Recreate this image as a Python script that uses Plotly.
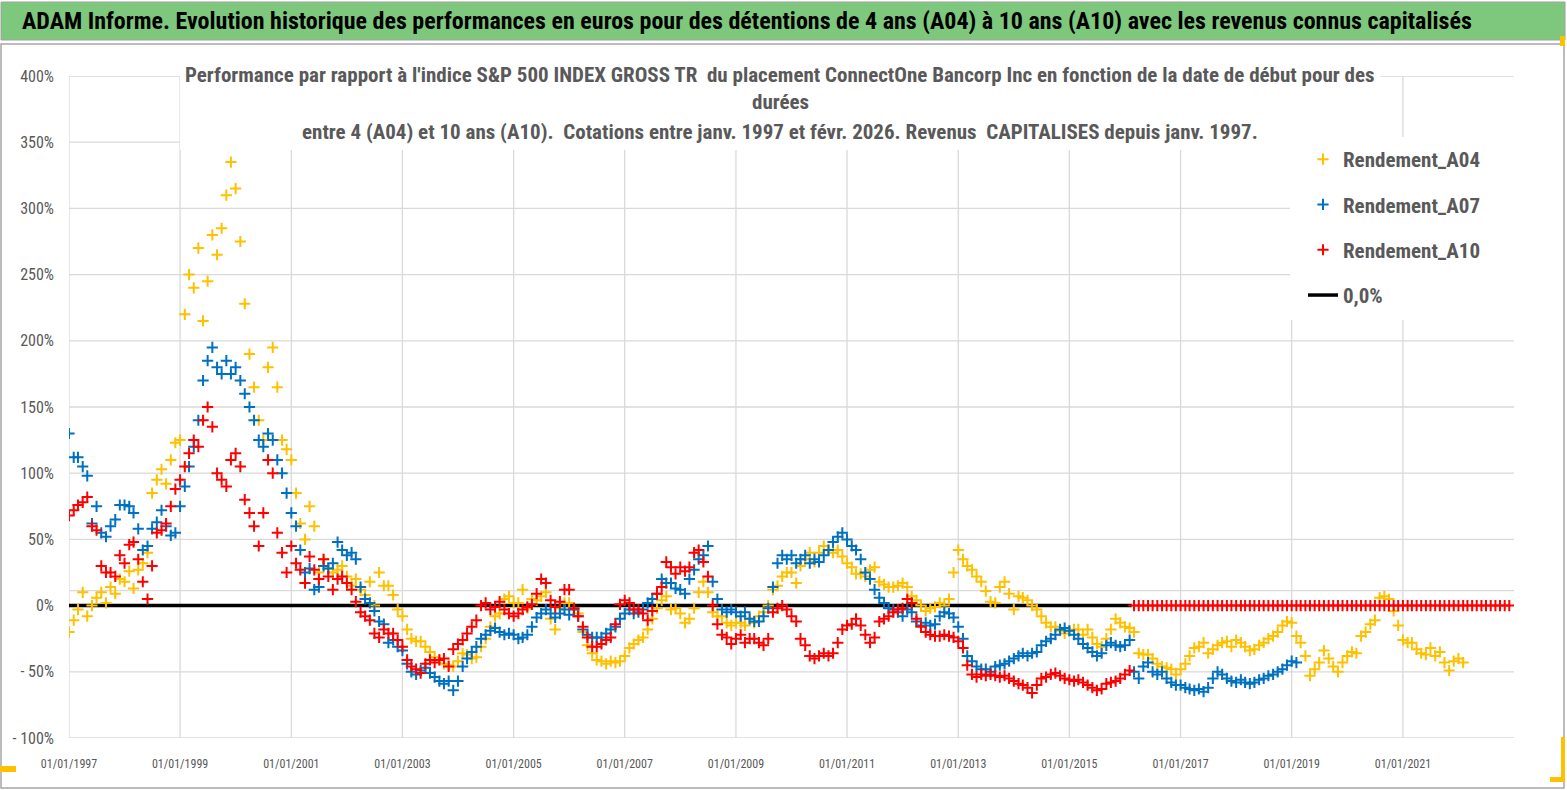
import pandas as pd
import plotly.graph_objects as go

# ---------------- data ----------------
title_text = ("ADAM Informe. Evolution historique des performances en euros pour des détentions "
              "de 4 ans (A04) à 10 ans (A10) avec les revenus connus capitalisés")
subtitle_lines = [
    "Performance par rapport à l'indice S&P 500 INDEX GROSS TR  du placement ConnectOne Bancorp Inc en fonction de la date de début pour des",
    "durées",
    "entre 4 (A04) et 10 ans (A10).  Cotations entre janv. 1997 et févr. 2026. Revenus  CAPITALISES depuis janv. 1997.",
]
series_names = ["Rendement_A04", "Rendement_A07", "Rendement_A10"]
zero_name = "0,0%"
series_start = "1997-01-01"   # monthly values, first of month

a04 = [
    -20, -11, -3, 10, -8, 0, 6, 10, 2, 14, 9, 20,            # 1997
    18, 26, 13, 27, 32, 40, 85, 95, 103, 92, 110, 123,       # 1998
    125, 220, 250, 240, 270, 215, 245, 280, 265, 285, 310, 335,  # 1999
    315, 275, 228, 190, 165, 140, 125, 180, 195, 165, 125, 118,  # 2000
    110, 85, 62, 50, 75, 60, 25, 35, 28, 25, 27, 30,          # 2001
    22, 15, 20, 12, 8, 18, 0, 25, 15, 15, 8, -3,              # 2002
    -8, -18, -25, -27, -27, -31, -35, -39, -41, -44, -45, -46,  # 2003
    -42, -36, -37, -40, -39, -31, -25, -16, -8, -6, 5, 7,     # 2004
    2, 2, 12, -2, 5, 4, 7, 10, -10, -18, -2, 2,               # 2005
    2, -3, -6, -20, -30, -36, -41, -42, -44, -42, -43, -42,   # 2006
    -38, -32, -29, -26, -24, -18, -10, -2, 4, 7, -3, -2,      # 2007
    -6, -13, -10, -2, 10, 18, 10, -5, -8, -8, -13, -15,       # 2008
    -13, -13, -15, -10, -13, -8, -5, 0, 12, 15, 22, 25,       # 2009
    25, 17, 30, 35, 40, 33, 40, 45, 42, 40, 42, 37,           # 2010
    32, 29, 24, 24, 22, 27, 29, 18, 16, 14, 14, 15,           # 2011
    17, 14, 7, 4, 0, -4, -2, -1, 2, 0, 5, 25,                 # 2012
    42, 35, 30, 27, 22, 18, 11, 3, 2, 14, 18, 9,              # 2013
    -3, 7, 6, 4, 0, -3, -8, -13, -16, -16, -19, -21,          # 2014
    -19, -18, -18, -22, -18, -24, -29, -31, -25, -18, -10, -13,  # 2015
    -16, -17, -20, -36, -37, -37, -40, -44, -46, -47, -48, -52,  # 2016
    -48, -44, -38, -32, -31, -28, -36, -33, -30, -28, -27, -31,  # 2017
    -26, -28, -31, -34, -33, -30, -28, -25, -23, -20, -15, -12,  # 2018
    -13, -23, -28, -38, -53, -48, -43, -34, -40, -46, -50, -43,  # 2019
    -38, -35, -36, -23, -20, -14, -11, 6, 7, 5, -4, -15,      # 2020
    -26, -28, -28, -33, -36, -37, -32, -38, -35, -43, -49, -42,  # 2021
    -40, -43,                                                 # 2022
]

a07 = [
    130, 112, 112, 105, 98, 62, 75, 55, 52, 60, 65, 76,       # 1997
    76, 75, 70, 58, 42, 45, 58, 63, 72, 60, 53, 55,           # 1998
    75, 90, 105, 120, 140, 170, 185, 195, 180, 175, 185, 175,  # 1999
    180, 170, 160, 150, 140, 125, 120, 130, 125, 110, 100, 85,  # 2000
    70, 60, 42, 25, 28, 12, 14, 30, 28, 32, 48, 42,           # 2001
    38, 40, 35, 14, 5, 2, -4, -12, -14, -28, -26, -31,        # 2002
    -34, -44, -50, -52, -49, -47, -51, -54, -57, -59, -57, -64,  # 2003
    -57, -46, -40, -35, -31, -25, -22, -19, -17, -20, -22, -21,  # 2004
    -22, -25, -24, -22, -16, -9, -6, -3, -6, -9, -6, -3,      # 2005
    -7, -3, -8, -18, -22, -24, -24, -24, -21, -18, -16, -10,  # 2006
    -6, -3, -6, -5, -3, 2, 5, 9, 20, 17, 17, 13,              # 2007
    12, 9, 20, 27, 35, 38, 45, 18, 5, -3, -5, -3,             # 2008
    -5, -8, -5, -10, -12, -12, -8, -2, 14, 32, 38, 35,        # 2009
    38, 32, 35, 38, 32, 35, 33, 38, 42, 48, 52, 55,           # 2010
    50, 45, 42, 35, 25, 20, 12, 6, 2, -2, -3, -5,             # 2011
    -8, -3, -5, -12, -15, -13, -15, -14, -8, -5, -6, -9,      # 2012
    -16, -25, -38, -42, -46, -48, -48, -50, -46, -45, -44, -42,  # 2013
    -40, -38, -36, -38, -36, -35, -30, -27, -25, -22, -18, -17,  # 2014
    -19, -22, -25, -29, -32, -35, -38, -36, -30, -28, -30, -31,  # 2015
    -30, -26, -50, -55, -46, -43, -50, -52, -50, -55, -58, -60,  # 2016
    -60, -62, -63, -64, -63, -65, -62, -55, -50, -52, -55, -57,  # 2017
    -58, -56, -58, -59, -58, -56, -55, -53, -52, -50, -48, -45,  # 2018
    -42, -43,                                                 # 2019
]

a10 = [
    68, 72, 76, 78, 82, 60, 57, 30, 25, 25, 22, 38,           # 1997
    32, 46, 48, 35, 18, 5, 30, 55, 57, 62, 75, 88,            # 1998
    95, 105, 115, 125, 120, 140, 150, 135, 100, 95, 90, 110,  # 1999
    115, 105, 80, 70, 60, 45, 70, 110, 100, 55, 40, 25,       # 2000
    45, 32, 27, 17, 37, 27, 20, 35, 22, 12, 20, 22,           # 2001
    17, 12, 3, -5, -8, -11, -21, -24, -18, -21, -21, -26,     # 2002
    -31, -41, -46, -48, -51, -44, -41, -43, -41, -40, -46, -33,  # 2003
    -29, -26, -21, -16, -11, 0, 2, -3, -1, 3, -3, -6,         # 2004
    -8, -6, -3, -1, 1, 9, 20, 17, 4, -1, 3, 12,               # 2005
    12, -2, -8, -16, -24, -31, -31, -29, -26, -24, -14, 1,    # 2006
    4, 2, -3, -3, -6, -11, -4, 9, 14, 33, 29, 24,             # 2007
    29, 26, 29, 40, 42, 33, 22, 0, -14, -22, -24, -29,        # 2008
    -25, -22, -28, -25, -25, -28, -30, -25, -5, -2, 0, -3,    # 2009
    -8, -12, -25, -30, -38, -40, -38, -36, -38, -36, -28, -18,  # 2010
    -15, -14, -10, -15, -22, -28, -24, -12, -10, -8, -5, -3,  # 2011
    -2, 5, 2, -10, -16, -20, -22, -23, -23, -22, -23, -24,    # 2012
    -27, -32, -45, -52, -54, -52, -53, -52, -53, -54, -53, -55,  # 2013
    -57, -59, -60, -62, -66, -60, -55, -54, -52, -51, -53, -55,  # 2014
    -56, -57, -56, -58, -60, -62, -64, -63, -59, -58, -57, -55,  # 2015
    -52, -49,                                                 # 2016
]
a10_tail = [0.0] * 82   # A10 plotted at 0 % from March 2016 to December 2022

zero_dates = ["1997-01-01", "2016-02-15"]
zero_vals = [0, 0]

x_tick_vals = [f"{y}-01-01" for y in range(1997, 2022, 2)]
x_tick_text = [f"01/01/{y}" for y in range(1997, 2022, 2)]
y_tick_vals = [-100, -50, 0, 50, 100, 150, 200, 250, 300, 350, 400]
y_tick_text = ["- 100%", "- 50%", "0%", "50%", "100%", "150%", "200%", "250%", "300%", "350%", "400%"]
odd_line_value = 11.25   # extra light horizontal rule visible in the reference

colors = {"Rendement_A04": "#FFC000", "Rendement_A07": "#0070C0", "Rendement_A10": "#FF0000"}

# ---------------- figure ----------------
W, H = 1567, 790
L, R, T, B = 69, 53, 76, 52
FONT = "Liberation Sans Narrow, Arial Narrow, Roboto Condensed, sans-serif"
GREY_TXT = "#595959"
GRID = "#D9D9D9"


def px_x(px):
    return (px - L) / (W - L - R)


def px_y(py):
    return (H - B - py) / (H - T - B)


a10_all = a10 + a10_tail
values = {"Rendement_A04": a04, "Rendement_A07": a07, "Rendement_A10": a10_all}

fig = go.Figure()
fig.add_trace(go.Scatter(
    x=pd.to_datetime(zero_dates), y=zero_vals, mode="lines", name=zero_name,
    line=dict(color="black", width=3.5), legendrank=4, legendgroup="z",
    hoverinfo="skip"))

for rank, name in enumerate(series_names, start=1):
    vals = values[name]
    dates = pd.date_range(series_start, periods=len(vals), freq="MS")
    fig.add_trace(go.Scatter(
        x=dates, y=vals, mode="markers", name=name, legendrank=rank, legendgroup=name,
        marker=dict(symbol="cross-thin", size=8, color=colors[name],
                    line=dict(width=2, color=colors[name]))))

shapes = []
# grid lines (drawn as shapes so that white boxes can mask them)
for xv in x_tick_vals:
    shapes.append(dict(type="line", xref="x", yref="y domain", x0=xv, x1=xv, y0=0, y1=1,
                       line=dict(color=GRID, width=1.3), layer="below"))
for yv in y_tick_vals + [odd_line_value]:
    shapes.append(dict(type="line", xref="x domain", yref="y", x0=0, x1=1, y0=yv, y1=yv,
                       line=dict(color=GRID, width=1.3), layer="below"))
shapes += [
    # white box behind the subtitle
    dict(type="rect", xref="x domain", yref="y domain", x0=px_x(180), x1=px_x(1380), y0=px_y(150), y1=1.01,
         fillcolor="white", line=dict(width=0), layer="below"),
    # white box behind legend
    dict(type="rect", xref="x domain", yref="y domain", x0=px_x(1290), x1=1.01, y0=px_y(320), y1=px_y(137),
         fillcolor="white", line=dict(width=0), layer="below"),
    # banner
    dict(type="rect", xref="paper", yref="paper", x0=px_x(1), x1=px_x(1565), y0=px_y(40), y1=px_y(2),
         fillcolor="#7EC87E", line=dict(color="#A0A0A0", width=1), layer="above"),
    # outer frame
    dict(type="rect", xref="paper", yref="paper", x0=px_x(1), x1=px_x(1564), y0=px_y(788), y1=px_y(44),
         fillcolor="rgba(0,0,0,0)", line=dict(color="#A6A6A6", width=1.5), layer="above"),
    # yellow selection handles
    dict(type="rect", xref="paper", yref="paper", x0=px_x(0), x1=px_x(16), y0=px_y(772), y1=px_y(766),
         fillcolor="#FFC000", line=dict(width=0), layer="above"),
    dict(type="rect", xref="paper", yref="paper", x0=px_x(1561), x1=px_x(1565), y0=px_y(782), y1=px_y(737),
         fillcolor="#FFC000", line=dict(width=0), layer="above"),
    dict(type="rect", xref="paper", yref="paper", x0=px_x(1550), x1=px_x(1565), y0=px_y(782), y1=px_y(777),
         fillcolor="#FFC000", line=dict(width=0), layer="above"),
    dict(type="rect", xref="paper", yref="paper", x0=px_x(1560), x1=px_x(1565), y0=px_y(46), y1=px_y(36),
         fillcolor="#FFC000", line=dict(width=0), layer="above"),
]

annotations = [
    dict(text=f"<b>{title_text}</b>", xref="paper", yref="paper", x=px_x(20), y=px_y(21),
         xanchor="left", yanchor="middle", showarrow=False,
         font=dict(family=FONT, size=24, color="black")),
]
for line_text, ypx in zip(subtitle_lines, [75, 102, 132]):
    annotations.append(dict(text=f"<b>{line_text}</b>", xref="paper", yref="paper",
                            x=px_x(780), y=px_y(ypx), xanchor="center", yanchor="middle",
                            showarrow=False, font=dict(family=FONT, size=21, color=GREY_TXT)))

fig.update_layout(
    width=W, height=H, margin=dict(l=L, r=R, t=T, b=B),
    paper_bgcolor="white", plot_bgcolor="white",
    font=dict(family=FONT, color=GREY_TXT),
    shapes=shapes, annotations=annotations,
    legend=dict(x=px_x(1303), y=px_y(139), xanchor="left", yanchor="top",
                bgcolor="rgba(255,255,255,0)",
                font=dict(family=FONT, size=21, color=GREY_TXT, weight="bold"),
                traceorder="grouped", tracegroupgap=15),
    showlegend=True,
)
fig.update_xaxes(type="date", range=["1997-01-01", "2023-01-01"], tickvals=x_tick_vals, ticktext=x_tick_text,
                 showgrid=False, zeroline=False, showline=False,
                 ticks="", tickfont=dict(family=FONT, size=12, color=GREY_TXT), ticklabelstandoff=17)
fig.update_yaxes(range=[-100, 400], tickvals=y_tick_vals, ticktext=y_tick_text,
                 showgrid=False, zeroline=False, showline=False,
                 ticks="", tickfont=dict(family=FONT, size=16, color=GREY_TXT), ticklabelstandoff=14)

fig.write_html("out.html", config={"displayModeBar": False},
               post_script="document.body.style.margin='0px';document.body.style.overflow='hidden';")
